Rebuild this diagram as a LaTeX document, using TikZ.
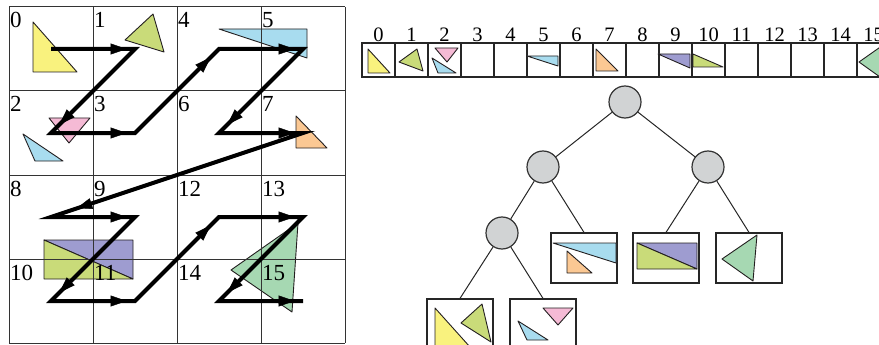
\documentclass[tikz,border=0pt]{standalone}
\usepackage{fontspec}
\setmainfont{Liberation Serif}
\usetikzlibrary{arrows.meta,decorations.markings}
\definecolor{triYellow}{HTML}{F9F27E}
\definecolor{triLime}{HTML}{C9DB79}
\definecolor{triPink}{HTML}{F5BAD5}
\definecolor{triBlue}{HTML}{A8DCEF}
\definecolor{triOrange}{HTML}{FBC893}
\definecolor{triPurple}{HTML}{9E9CD0}
\definecolor{triGreen}{HTML}{A6D8B2}
\definecolor{nodeGray}{HTML}{D1D3D4}
\definecolor{inkDark}{HTML}{231F20}
\begin{document}
\begin{tikzpicture}[x=1pt,y=-1pt,
  tri/.style={draw=inkDark,line width=0.9pt,line join=round},
  gridline/.style={draw=black!80,line width=1pt},
  glabel/.style={anchor=base west,inner sep=0pt,font=\fontsize{23}{23}\selectfont},
  alabel/.style={anchor=base,inner sep=0pt,font=\fontsize{20.5}{20.5}\selectfont},
  acell/.style={draw=black!85,line width=1.2pt,minimum width=33pt,minimum height=34pt,inner sep=0pt},
  zline/.style={line width=4pt,line join=miter,black},
  zhead/.style={postaction={decorate},decoration={markings,
      mark=at position 0.9 with {\arrow{Triangle[length=16pt,width=11pt]}}}},
  tnode/.style={circle,draw=black!80,line width=1.2pt,fill=nodeGray,minimum size=32pt,inner sep=0pt},
  leaf/.style={draw=black!85,line width=1.2pt,minimum width=66pt,minimum height=50pt,inner sep=0pt},
  tedge/.style={draw=black!85,line width=1pt}]
\useasboundingbox (0,0) rectangle (879,345);

% ---------- triangles in the 4x4 grid ----------
\filldraw[tri,fill=triYellow] (33,22) -- (33,72) -- (77,72) -- cycle;
\filldraw[tri,fill=triLime] (125,40) -- (153,14) -- (164,52) -- cycle;
\filldraw[tri,fill=triPink] (49,118) -- (90,118) -- (69,143) -- cycle;
\filldraw[tri,fill=triBlue] (23,134) -- (35,161) -- (63,161) -- cycle;
\filldraw[tri,fill=triBlue] (219,29) -- (307,29) -- (307,58) -- cycle;
\filldraw[tri,fill=triOrange] (296,116) -- (296,148) -- (327,148) -- cycle;
\filldraw[tri,fill=triPurple] (44,240) -- (133,240) -- (133,279) -- cycle;
\filldraw[tri,fill=triLime] (44,240) -- (44,279) -- (133,279) -- cycle;
\filldraw[tri,fill=triGreen] (231,270) -- (298,223) -- (292,312) -- cycle;

% ---------- grid lines ----------
\foreach \i in {0,...,4} {
  \draw[gridline] (9+84*\i,7) -- (9+84*\i,343);
  \draw[gridline] (9,7+84*\i) -- (345,7+84*\i);
}

% ---------- cell numbers and cell centres (Z-order) ----------
\foreach \n/\c/\r in {0/0/0,1/1/0,2/0/1,3/1/1,4/2/0,5/3/0,6/2/1,7/3/1,
                      8/0/2,9/1/2,10/0/3,11/1/3,12/2/2,13/3/2,14/2/3,15/3/3} {
  \node[glabel] (l\n) at (10+84*\c,28+84*\r) {\n};
  \coordinate (c\n) at (51+84*\c,49+84*\r);
}

% ---------- Z-order curve ----------
\draw[zline] (c0) -- (c1) -- (c2) -- (c3) -- (c4) -- (c5) -- (c6) -- (c7) -- (c8)
  -- (c9) -- (c10) -- (c11) -- (c12) -- (c13) -- (c14) -- (c15);
\foreach \a/\b in {0/1,1/2,2/3,3/4,4/5,5/6,6/7,7/8,8/9,9/10,10/11,11/12,12/13,13/14,14/15}
  \path[zhead] (c\a) -- (c\b);

% ---------- linear array ----------
\foreach \i in {0,...,15} {
  \node[acell] (a\i) at (378.5+33*\i,60) {};
  \node[alabel] (t\i) at (378.5+33*\i,42) {\i};
}
\filldraw[tri,fill=triYellow] (368,49) -- (368,73) -- (390,73) -- cycle;
\filldraw[tri,fill=triLime] (399,62) -- (417,49) -- (423,71) -- cycle;
\filldraw[tri,fill=triPink] (435,48) -- (458,48) -- (447,62) -- cycle;
\filldraw[tri,fill=triBlue] (432,58) -- (438,73) -- (456,73) -- cycle;
\filldraw[tri,fill=triBlue] (527,56) -- (558,56) -- (558,66) -- cycle;
\filldraw[tri,fill=triOrange] (596,49) -- (596,71) -- (618,71) -- cycle;
\filldraw[tri,fill=triPurple] (658,54) -- (690,54) -- (690,68) -- cycle;
\filldraw[tri,fill=triLime] (693,54) -- (693,67) -- (723,67) -- cycle;
\filldraw[tri,fill=triGreen] (859,62) -- (886,43) -- (880,77) -- cycle;

% ---------- tree ----------
\node[tnode] (root) at (625,102) {};
\node[tnode] (m1) at (543,167) {};
\node[tnode] (m2) at (708,167) {};
\node[tnode] (m3) at (502,233) {};
\node[leaf] (bA) at (584,258) {};
\node[leaf] (bB) at (666,258) {};
\node[leaf] (bC) at (749,258) {};
\node[leaf] (bD) at (460,324) {};
\node[leaf] (bE) at (543,324) {};

\draw[tedge] (root) -- (m1);
\draw[tedge] (root) -- (m2);
\draw[tedge] (m1) -- (m3);
\draw[tedge] (m1) -- (bA.north);
\draw[tedge] (m2) -- (bB.north);
\draw[tedge] (m2) -- (bC.north);
\draw[tedge] (m3) -- (bD.north);
\draw[tedge] (m3) -- (bE.north);

% leaf contents
\filldraw[tri,fill=triBlue] (553,243) -- (616,243) -- (616,263) -- cycle;
\filldraw[tri,fill=triOrange] (567,251) -- (567,273) -- (592,273) -- cycle;
\filldraw[tri,fill=triPurple] (637,243) -- (697,243) -- (697,269) -- cycle;
\filldraw[tri,fill=triLime] (637,243) -- (637,269) -- (697,269) -- cycle;
\filldraw[tri,fill=triGreen] (722,259) -- (757,235) -- (753,281) -- cycle;
\filldraw[tri,fill=triYellow] (435,308) -- (435,347) -- (470,347) -- cycle;
\filldraw[tri,fill=triLime] (461,323) -- (482,304) -- (491,342) -- cycle;
\filldraw[tri,fill=triPink] (543,308) -- (573,308) -- (558,325) -- cycle;
\filldraw[tri,fill=triBlue] (518,321) -- (527,340) -- (548,340) -- cycle;
\end{tikzpicture}
\end{document}
